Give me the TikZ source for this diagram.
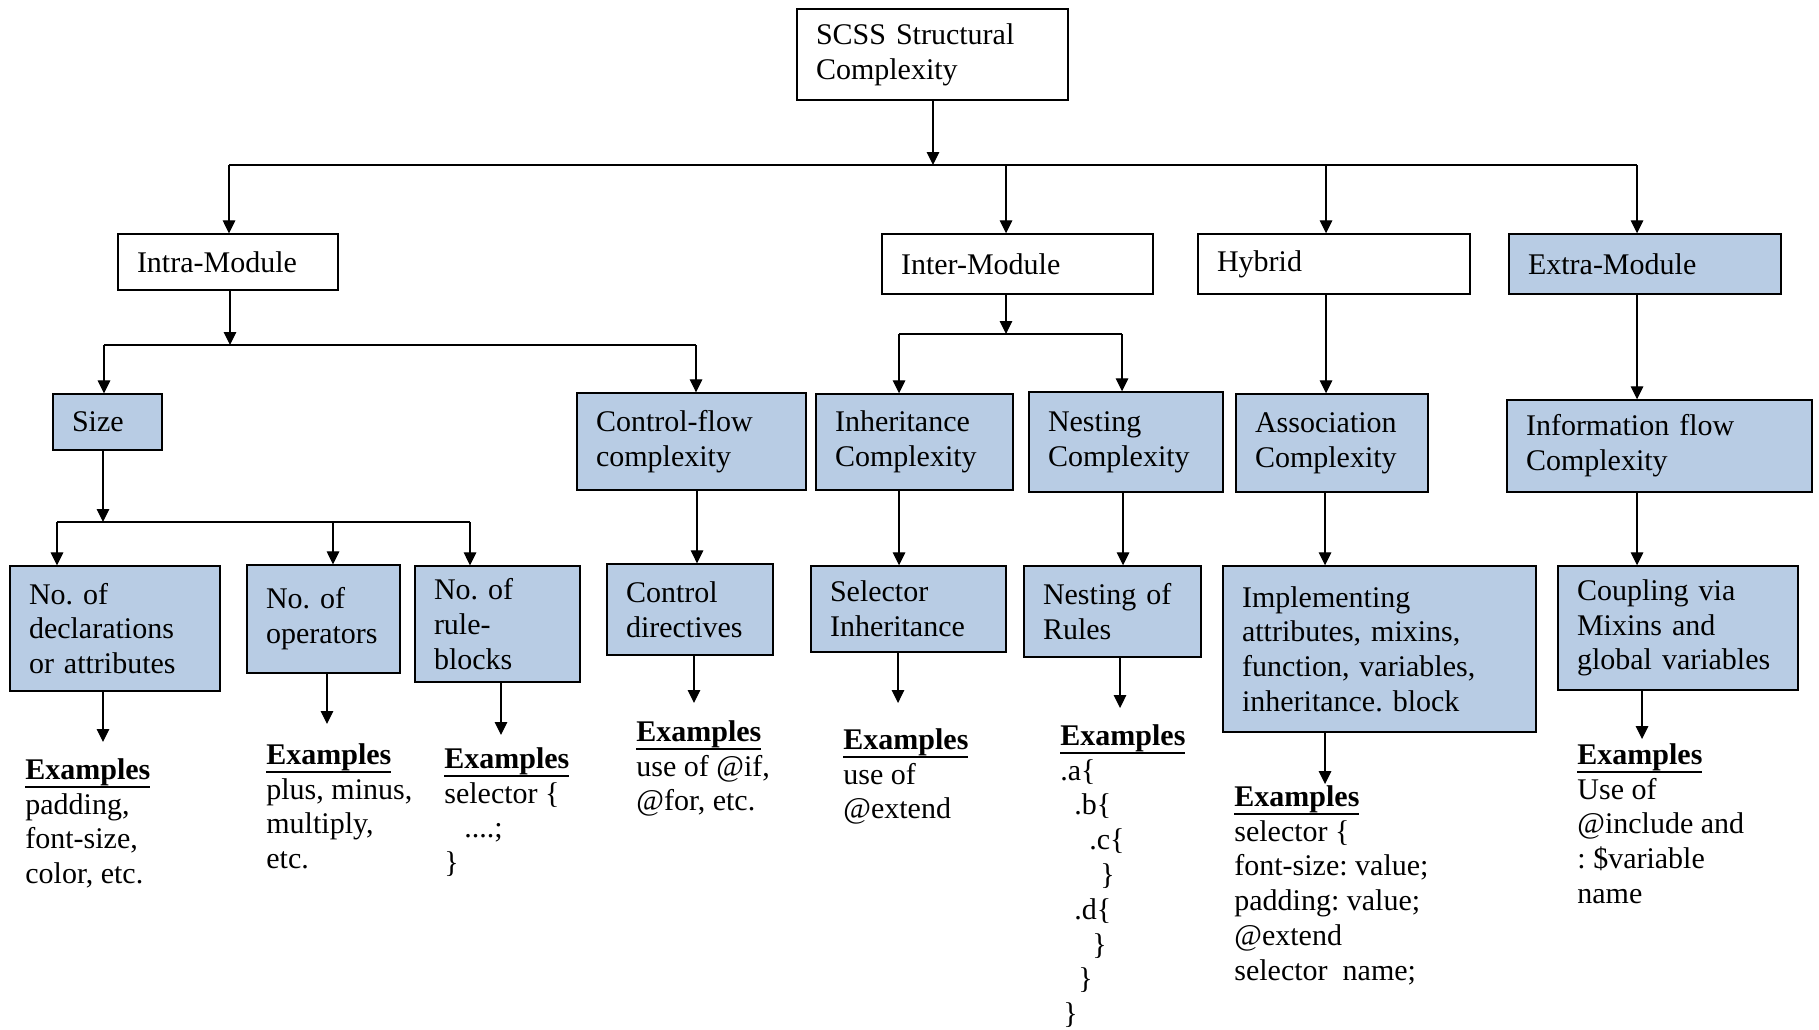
\documentclass[tikz,border=0pt]{standalone}
\usepackage{fontspec}
\setmainfont{Liberation Serif}
\usetikzlibrary{arrows.meta}
\definecolor{boxblue}{RGB}{184,204,228}
\frenchspacing
\newcommand{\exhead}{\setbox0\hbox{\textbf{Examples}}\rlap{\raisebox{\dimexpr-\dp0-1.2pt\relax}{\rule{\wd0}{1.1pt}}}\box0}
\begin{document}
\begin{tikzpicture}[x=0.5pt,y=-0.5pt,
  box/.style={draw=black, line width=0.7pt, rectangle, inner xsep=9.5pt, inner ysep=0pt,
    align=left, font=\fontsize{15}{17.4}\selectfont},
  wbox/.style={box, fill=white},
  bbox/.style={box, fill=boxblue},
  ex/.style={anchor=north west, inner sep=0pt, align=left, font=\fontsize{15}{17.4}\selectfont},
  line/.style={line width=0.65pt},
  arr/.style={line, -{Triangle[length=6.5pt,width=6.3pt]}}]
\useasboundingbox (0,0) rectangle (1819,1029);

% ---- level 0 and 1 ----
\node[wbox, minimum width=135.5pt, minimum height=45.5pt, text width=116.5pt] (top) at (932.5,54.5) {SCSS Structural\\Complexity};
\node[wbox, minimum width=110pt, minimum height=28pt, text width=91pt] (intra) at (228,262) {Intra-Module};
\node[wbox, minimum width=135.5pt, minimum height=30pt, text width=116.5pt] (inter) at (1017.5,264) {Inter-Module};
\node[wbox, minimum width=136pt, minimum height=30pt, text width=117pt] (hybrid) at (1334,264) {Hybrid};
\node[bbox, minimum width=136pt, minimum height=30pt, text width=117pt] (extra) at (1645,264) {Extra-Module};

% ---- level 2 ----
\node[bbox, minimum width=54.5pt, minimum height=28pt, text width=35.5pt] (size) at (107.5,422) {Size};
\node[bbox, minimum width=114.5pt, minimum height=48.5pt, text width=95.5pt] (cflow) at (691.5,441.5) {Control-flow\\complexity};
\node[bbox, minimum width=98.5pt, minimum height=48pt, text width=79.5pt] (inh) at (914.5,442) {Inheritance\\Complexity};
\node[bbox, minimum width=97pt, minimum height=50pt, text width=78pt] (nest) at (1126,442) {Nesting\\Complexity};
\node[bbox, minimum width=96pt, minimum height=49pt, text width=77pt] (assoc) at (1332,443) {Association\\Complexity};
\node[bbox, minimum width=152.5pt, minimum height=46pt, text width=133.5pt] (info) at (1659.5,446) {Information flow\\Complexity};

% ---- level 3 ----
\node[bbox, minimum width=105pt, minimum height=62.5pt, text width=86pt] (decl) at (115,628.5) {No. of\\declarations\\or attributes};
\node[bbox, minimum width=76.5pt, minimum height=54pt, text width=57.5pt] (ops) at (323.5,619) {No. of\\operators};
\node[bbox, minimum width=82.5pt, minimum height=58pt, text width=63.5pt] (rules) at (497.5,624) {No. of\\rule-\\blocks};
\node[bbox, minimum width=83pt, minimum height=45.5pt, text width=64pt] (cdir) at (690,609.5) {Control\\directives};
\node[bbox, minimum width=97.5pt, minimum height=43pt, text width=78.5pt] (sel) at (908.5,609) {Selector\\Inheritance};
\node[bbox, minimum width=88.5pt, minimum height=45.5pt, text width=69.5pt] (nrules) at (1112.5,611.5) {Nesting of\\Rules};
\node[bbox, minimum width=156.5pt, minimum height=83pt, text width=137.5pt] (impl) at (1379.5,649) {Implementing\\attributes, mixins,\\function, variables,\\inheritance. block};
\node[bbox, minimum width=120pt, minimum height=62pt, text width=101pt] (coup) at (1678,628) {Coupling via\\Mixins and\\global variables};

% ---- example texts ----
\node[ex] (x1) at (25,758) {\exhead\\padding,\\font-size,\\color, etc.};
\node[ex] (x2) at (266,743) {\exhead\\plus, minus,\\multiply,\\etc.};
\node[ex] (x3) at (444,747) {\exhead\\selector \{\\\hspace*{10pt}....;\\\}};
\node[ex] (x4) at (636,720) {\exhead\\use of @if,\\@for, etc.};
\node[ex] (x5) at (843,728) {\exhead\\use of\\@extend};
\node[ex] (x6) at (1060,724) {\exhead\\.a\{\\\hspace*{7pt}.b\{\\\hspace*{14.5pt}.c\{\\\hspace*{20pt}\}\\\hspace*{7pt}.d\{\\\hspace*{16pt}\}\\\hspace*{9pt}\}\\\hspace*{1.5pt}\}};
\node[ex] (x7) at (1234,785) {\exhead\\selector \{\\font-size: value;\\padding: value;\\@extend\\selector\ \ name;};
\node[ex] (x8) at (1577,743) {\exhead\\Use of\\@include and\\: \$variable\\name};

% ---- top level branching ----
\coordinate (bT) at (933,165);
\coordinate (bL) at (229,165);
\coordinate (bI) at (1006,165);
\coordinate (bH) at (1326,165);
\coordinate (bR) at (1637,165);
\draw[arr] (bT |- top.south) -- (bT);
\draw[line] (bL) -- (bR);
\draw[arr] (bL) -- (bL |- intra.north);
\draw[arr] (bI) -- (bI |- inter.north);
\draw[arr] (bH) -- (bH |- hybrid.north);
\draw[arr] (bR) -- (bR |- extra.north);

% ---- intra-module branching ----
\coordinate (aM) at (230,345);
\coordinate (aL) at (104,345);
\coordinate (aR) at (696,345);
\draw[arr] (aM |- intra.south) -- (aM);
\draw[line] (aL) -- (aR);
\draw[arr] (aL) -- (aL |- size.north);
\draw[arr] (aR) -- (aR |- cflow.north);

% ---- inter-module branching ----
\coordinate (iM) at (1006,334);
\coordinate (iL) at (899,334);
\coordinate (iR) at (1122,334);
\draw[arr] (iM |- inter.south) -- (iM);
\draw[line] (iL) -- (iR);
\draw[arr] (iL) -- (iL |- inh.north);
\draw[arr] (iR) -- (iR |- nest.north);

% ---- hybrid and extra-module ----
\coordinate (hX) at (1326,0);
\coordinate (eX) at (1637,0);
\draw[arr] (hX |- hybrid.south) -- (hX |- assoc.north);
\draw[arr] (eX |- extra.south) -- (eX |- info.north);

% ---- size branching ----
\coordinate (sM) at (103,522);
\coordinate (sL) at (57,522);
\coordinate (sC) at (333,522);
\coordinate (sR) at (470,522);
\draw[arr] (sM |- size.south) -- (sM);
\draw[line] (sL) -- (sR);
\draw[arr] (sL) -- (sL |- decl.north);
\draw[arr] (sC) -- (sC |- ops.north);
\draw[arr] (sR) -- (sR |- rules.north);

% ---- second level to third level ----
\coordinate (c1) at (697,0);
\coordinate (c2) at (899,0);
\coordinate (c3) at (1123,0);
\coordinate (c4) at (1325,0);
\coordinate (c5) at (1637,0);
\draw[arr] (c1 |- cflow.south) -- (c1 |- cdir.north);
\draw[arr] (c2 |- inh.south) -- (c2 |- sel.north);
\draw[arr] (c3 |- nest.south) -- (c3 |- nrules.north);
\draw[arr] (c4 |- assoc.south) -- (c4 |- impl.north);
\draw[arr] (c5 |- info.south) -- (c5 |- coup.north);

% ---- arrows down to the examples ----
\coordinate (e1) at (103,742);
\coordinate (e2) at (327,724);
\coordinate (e3) at (501,735);
\coordinate (e4) at (694,703);
\coordinate (e5) at (898,703);
\coordinate (e6) at (1120,708);
\coordinate (e7) at (1325,784);
\coordinate (e8) at (1642,739);
\draw[arr] (e1 |- decl.south) -- (e1);
\draw[arr] (e2 |- ops.south) -- (e2);
\draw[arr] (e3 |- rules.south) -- (e3);
\draw[arr] (e4 |- cdir.south) -- (e4);
\draw[arr] (e5 |- sel.south) -- (e5);
\draw[arr] (e6 |- nrules.south) -- (e6);
\draw[arr] (e7 |- impl.south) -- (e7);
\draw[arr] (e8 |- coup.south) -- (e8);
\end{tikzpicture}
\end{document}
